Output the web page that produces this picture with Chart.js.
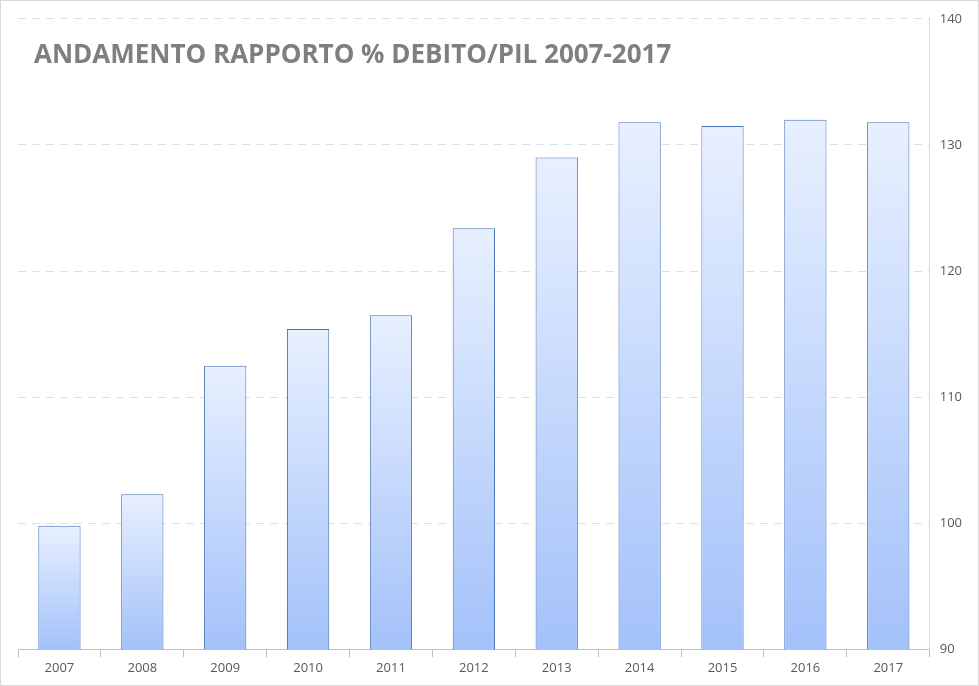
<!DOCTYPE html>
<html><head><meta charset="utf-8">
<script src="https://cdn.jsdelivr.net/npm/chart.js@4"></script>
<style>
html,body{margin:0;padding:0;background:#fff}
#wrap{position:relative;width:977px;height:684px;border:1px solid #d9d9d9}
#title{position:absolute;left:33px;top:34px;font-family:"Open Sans","Liberation Sans",sans-serif;font-weight:bold;font-size:26px;color:#7f7f7f;letter-spacing:0px}
</style></head><body>
<div id="wrap"><canvas id="c" width="977" height="684"></canvas><div id="title">ANDAMENTO RAPPORTO % DEBITO/PIL 2007-2017</div></div>
<script>
const categories=["2007","2008","2009","2010","2011","2012","2013","2014","2015","2016","2017"];
const debtRatio=[99.8,102.3,112.5,115.4,116.5,123.4,129.0,131.8,131.5,132.0,131.8];
const yMin=90,yMax=140,yStep=10;
new Chart(document.getElementById('c'),{
type:'bar',
data:{labels:categories,datasets:[{data:debtRatio,
backgroundColor:(ctx)=>{const ch=ctx.chart;const a=ch.chartArea;if(!a||ctx.parsed==null)return '#c5d8fb';
const y=ch.scales.y;const top=y.getPixelForValue(ctx.parsed.y);const bot=y.getPixelForValue(yMin);
if(!isFinite(top)||bot<=top)return '#c5d8fb';
const g=ch.ctx.createLinearGradient(0,top,0,bot);g.addColorStop(0,'#e8f0ff');g.addColorStop(1,'#a3c1fa');return g;},
borderColor:'#4a74b4',borderWidth:1,borderSkipped:'bottom',barPercentage:0.51,categoryPercentage:1}]},
options:{responsive:false,animation:false,
layout:{padding:{left:17,top:10,right:6,bottom:6}},
plugins:{legend:{display:false},tooltip:{enabled:false}},
scales:{
x:{offset:true,grid:{display:true,drawOnChartArea:false,tickLength:8,color:'#bfbfbf',offset:true},border:{color:'#bfbfbf'},
ticks:{color:'#595959',font:{family:'"Open Sans","Liberation Sans",sans-serif',size:13}}},
y:{position:'right',min:yMin,max:yMax,ticks:{stepSize:yStep,color:'#595959',padding:10,font:{family:'"Open Sans","Liberation Sans",sans-serif',size:13}},
grid:{color:'#d9e1ea',tickLength:0},border:{dash:[8,6],color:'#d9d9d9'}}}}
});
</script></body></html>
